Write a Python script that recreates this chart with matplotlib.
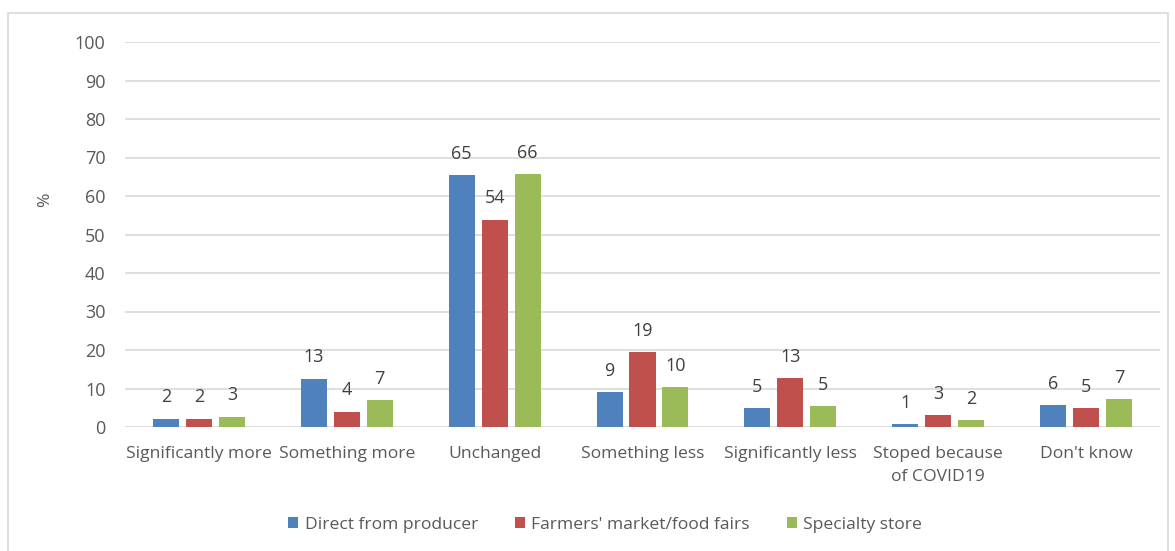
import numpy as np
import matplotlib
matplotlib.use("Agg")
import matplotlib.pyplot as plt
from matplotlib.patches import Rectangle

# ── Data ──────────────────────────────────────────────────────
categories = ["Significantly more", "Something more", "Unchanged",
              "Something less", "Significantly less",
              "Stoped because\nof COVID19", "Don't know"]
series_names = ["Direct from producer", "Farmers' market/food fairs",
                "Specialty store"]
direct    = [2.2, 12.5, 65.4, 9.0, 4.9, 0.7, 5.6]
farmers   = [2.2, 4.0, 53.8, 19.4, 12.7, 3.0, 4.9]
specialty = [2.7, 7.0, 65.6, 10.3, 5.4, 1.7, 7.2]
direct_lbl    = [2, 13, 65, 9, 5, 1, 6]
farmers_lbl   = [2, 4, 54, 19, 13, 3, 5]
specialty_lbl = [3, 7, 66, 10, 5, 2, 7]
yticks = list(range(0, 101, 10))

COLORS = ["#4F81BD", "#C0504D", "#9BBB59"]
GRID = "#D9D9D9"
TXT = "#595959"
FS = 12.6
plt.rcParams["font.family"] = ["Open Sans", "DejaVu Sans"]

fig = plt.figure(figsize=(11.75, 5.51), dpi=100)
ax = fig.add_axes([125/1175, 1 - 427/551, 1035/1175, 385/551])

# outer chart frame
fig.patches.append(Rectangle((8/1175, -0.01), 1160/1175, 1 - 13/551 + 0.01,
                             transform=fig.transFigure, fill=False,
                             edgecolor=GRID, linewidth=1.2))

x = np.arange(len(categories))
w = 0.176
step = 0.223
all_vals = [direct, farmers, specialty]
all_lbls = [direct_lbl, farmers_lbl, specialty_lbl]
for i, (vals, lbls) in enumerate(zip(all_vals, all_lbls)):
    pos = x + (i - 1) * step
    ax.bar(pos, vals, width=w, color=COLORS[i], label=series_names[i],
           zorder=3)
    for px, v, l in zip(pos, vals, lbls):
        ax.annotate(str(l), (px, v), xytext=(0, 9),
                    textcoords="offset points", ha="center", va="bottom",
                    fontsize=13, color="#404040")

ax.set_xlim(-0.5, len(categories) - 0.5)
ax.set_ylim(0, 100)
ax.set_yticks(yticks)
ax.set_xticks(x)
ax.set_xticklabels(categories, fontsize=FS, color=TXT, linespacing=1.55,
                   va="top")
ax.tick_params(axis="y", length=0, pad=14, labelsize=13, labelcolor=TXT)
ax.tick_params(axis="x", length=0, pad=14)
for s in ax.spines.values():
    s.set_visible(False)
ax.grid(axis="y", color=GRID, linewidth=1.2, zorder=0)
ax.set_axisbelow(True)
ax.set_ylabel("%", fontsize=FS, color=TXT)
ax.yaxis.set_label_coords(-0.069, 0.59)

leg = fig.legend(loc="center", bbox_to_anchor=(605/1175, 1 - 525/551),
                 ncol=3, frameon=False, fontsize=FS, handlelength=0.6,
                 handleheight=0.6, handletextpad=0.35, columnspacing=2.1)
for t in leg.get_texts():
    t.set_color(TXT)

fig.savefig("out.png", dpi=100)
